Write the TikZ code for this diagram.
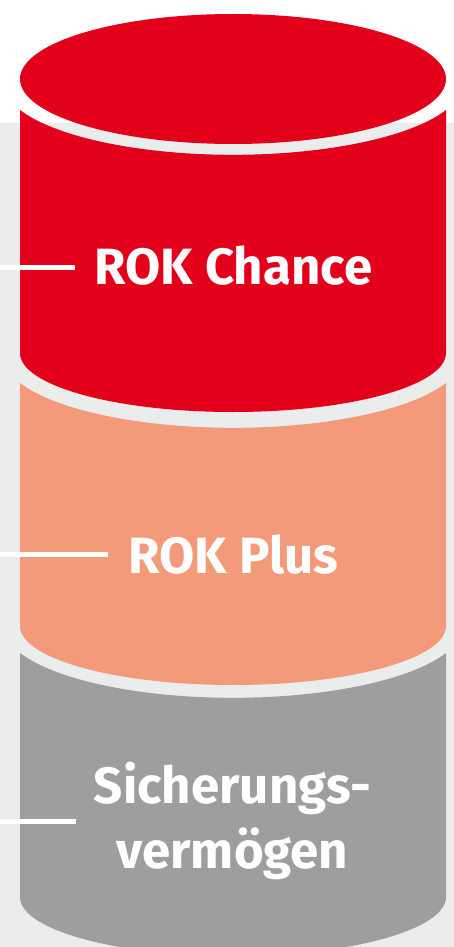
\documentclass[tikz,border=0pt]{standalone}
\usepackage{fontspec}
\newfontfamily\rokfont{Fira Sans}
\usepackage{tikz}
\definecolor{rokred}{RGB}{226,0,26}
\definecolor{rokpeach}{RGB}{243,154,122}
\definecolor{rokgrey}{RGB}{157,158,160}
\definecolor{rokbg}{RGB}{235,237,236}
\tikzset{
    layertext/.style={text=white, font=\rokfont\bfseries\fontsize{51}{65}\selectfont, align=center, inner sep=0pt},
    pointer/.style={draw=white, line width=5pt}
}
\begin{document}
\begin{tikzpicture}[x=1pt,y=-1pt]
\def\lx{20}      % left side of cylinder
\def\rx{446}     % right side of cylinder
\def\cx{233}     % axis of cylinder
% canvas
\useasboundingbox (0,0) rectangle (454,947);
\clip (0,0) rectangle (454,947);
\fill[white] (0,0) rectangle (454,123);
\fill[rokbg] (0,123) rectangle (454,947);
% lid
\fill[rokred] (\cx,79) ellipse [x radius=213, y radius=65];
% layers
\foreach \yt/\yb/\col in {110/353/rokred, 383/626/rokpeach, 653/897/rokgrey} {%
\fill[\col] (\lx,\yt) -- (\lx,\yb) arc[start angle=180, end angle=0, x radius=213, y radius=59]
  -- (\rx,\yt) arc[start angle=22.2, end angle=157.8, x radius=230, y radius=72] -- cycle;
};
% names
\node[layertext] (chance) at (233.5,265.5) {ROK Chance};
\node[layertext] (plus) at (233.5,554.5) {ROK Plus};
\node[layertext] (safe) at (232.5,820.5) {Sicherungs-\\vermögen};
% pointers
\coordinate (chanceL) at (0,267);
\coordinate (plusL) at (0,554);
\coordinate (safeL) at (0,821);
\draw[pointer, shorten >=20pt] (chanceL) -- (chanceL -| chance.west);
\draw[pointer, shorten >=21pt] (plusL) -- (plusL -| plus.west);
\draw[pointer, shorten >=18pt] (safeL) -- (safeL -| safe.west);
\end{tikzpicture}
\end{document}
